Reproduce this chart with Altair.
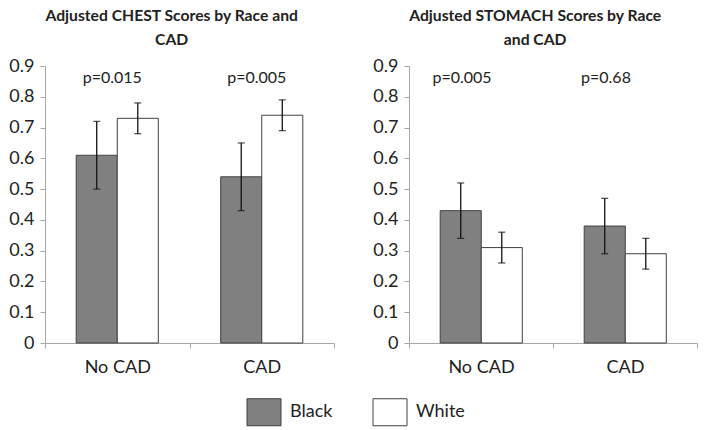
import altair as alt
import pandas as pd

cad_groups = ["No CAD", "CAD"]
races = ["Black", "White"]

chest_black = [0.61, 0.54]
chest_black_lo = [0.50, 0.43]
chest_black_hi = [0.72, 0.65]
chest_white = [0.73, 0.74]
chest_white_lo = [0.68, 0.69]
chest_white_hi = [0.78, 0.79]

stomach_black = [0.43, 0.38]
stomach_black_lo = [0.34, 0.29]
stomach_black_hi = [0.52, 0.47]
stomach_white = [0.31, 0.29]
stomach_white_lo = [0.26, 0.24]
stomach_white_hi = [0.36, 0.34]

chest_p = ["p=0.015", "p=0.005"]
stomach_p = ["p=0.005", "p=0.68"]
p_label_y = [0.86, 0.86]

y_ticks = [0, 0.1, 0.2, 0.3, 0.4, 0.5, 0.6, 0.7, 0.8, 0.9]

chest_title = ["Adjusted CHEST Scores by Race and", "CAD"]
stomach_title = ["Adjusted STOMACH Scores by Race", "and CAD"]

FONT = "Lato"


def make_df(b, blo, bhi, w, wlo, whi):
    rows = []
    for i, g in enumerate(cad_groups):
        rows.append({"cad": g, "race": "Black", "value": b[i], "lo": blo[i], "hi": bhi[i]})
        rows.append({"cad": g, "race": "White", "value": w[i], "lo": wlo[i], "hi": whi[i]})
    return pd.DataFrame(rows)


def make_pdf(labels):
    return pd.DataFrame({"cad": cad_groups, "label": labels, "ypos": p_label_y})


legend = alt.Legend(
    title=None,
    orient="none",
    direction="horizontal",
    legendX=205,
    legendY=332,
    symbolType="M-1.26,-1H1.26V1H-1.26Z",
    symbolSize=729,
    symbolStrokeColor="#404040",
    symbolStrokeWidth=1,
    symbolOpacity=1,
    labelFont=FONT,
    labelFontSize=18,
    labelColor="#222222",
    labelOffset=12,
    columnPadding=37,
)


def panel(df, pdf, title, p_dx, width, offset_pad):
    x = alt.X(
        "cad:N",
        sort=cad_groups,
        title=None,
        scale=alt.Scale(paddingInner=0, paddingOuter=0),
        axis=alt.Axis(labelAngle=0, tickBand="extent", labelPadding=10),
    )
    xo = alt.XOffset(
        "race:N", sort=races, scale=alt.Scale(paddingInner=0, paddingOuter=offset_pad)
    )
    yscale = alt.Scale(domain=[0, 0.9], nice=False, zero=True)
    yaxis = alt.Axis(values=y_ticks, format=".1~f", grid=False, title=None, labelPadding=6)

    base = alt.Chart(df)
    bars = base.mark_bar(stroke="#404040", strokeWidth=1, opacity=1).encode(
        x=x,
        xOffset=xo,
        y=alt.Y("value:Q", scale=yscale, axis=yaxis),
        color=alt.Color(
            "race:N",
            sort=races,
            scale=alt.Scale(domain=races, range=["#808080", "#ffffff"]),
            legend=legend,
        ),
    )
    rules = base.mark_rule(color="#111111", strokeWidth=1.3).encode(
        x=x, xOffset=xo, y=alt.Y("lo:Q", scale=yscale, axis=yaxis), y2="hi:Q"
    )
    cap_lo = base.mark_tick(color="#111111", thickness=1.3, size=7, orient="horizontal").encode(
        x=x, xOffset=xo, y=alt.Y("lo:Q", scale=yscale, axis=yaxis)
    )
    cap_hi = base.mark_tick(color="#111111", thickness=1.3, size=7, orient="horizontal").encode(
        x=x, xOffset=xo, y=alt.Y("hi:Q", scale=yscale, axis=yaxis)
    )
    text = alt.Chart(pdf).mark_text(
        font=FONT, fontSize=16, color="#222222", dx=p_dx, baseline="middle"
    ).encode(
        x=alt.X("cad:N", sort=cad_groups, title=None),
        y=alt.Y("ypos:Q", scale=yscale, axis=yaxis),
        text="label:N",
    )
    return alt.layer(bars, rules, cap_lo, cap_hi, text).properties(
        width=width,
        height=277,
        title=alt.TitleParams(text=title),
    )


chest_df = make_df(chest_black, chest_black_lo, chest_black_hi, chest_white, chest_white_lo, chest_white_hi)
stomach_df = make_df(stomach_black, stomach_black_lo, stomach_black_hi, stomach_white, stomach_white_lo, stomach_white_hi)

left = panel(chest_df, make_pdf(chest_p), chest_title, -5, 289, 0.76)
right = panel(stomach_df, make_pdf(stomach_p), stomach_title, -19, 288, 0.72)

chart = (
    alt.hconcat(left, right, spacing=37)
    .properties(padding=0, background="white")
    .configure_view(stroke=None)
    .configure_axis(
        domainColor="#a6a6a6",
        tickColor="#a6a6a6",
        tickSize=5,
        labelFont=FONT,
        labelFontSize=18,
        labelColor="#222222",
    )
    .configure_title(
        font=FONT,
        fontSize=15.7,
        fontWeight="bold",
        color="#222222",
        anchor="middle",
        frame="bounds",
        lineHeight=24,
        offset=8,
    )
)

chart.save("out.html", embed_options={"renderer": "svg", "actions": False})
